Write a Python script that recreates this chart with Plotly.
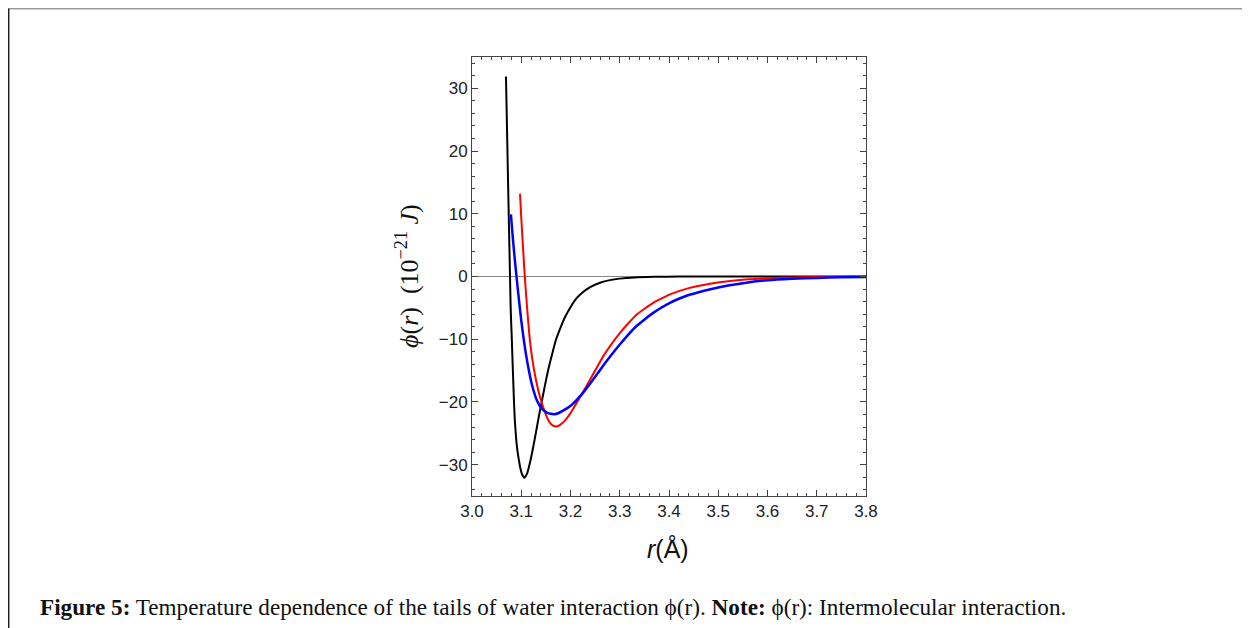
import plotly.graph_objects as go

# ---- data ----
r_black = [3.069, 3.0715, 3.074, 3.0772, 3.0785, 3.0806, 3.083, 3.0853, 3.087, 3.0893,
           3.0915, 3.094, 3.0989, 3.1025, 3.106, 3.112, 3.118, 3.124, 3.130, 3.136,
           3.1415, 3.148, 3.155, 3.162, 3.170, 3.180, 3.190, 3.200, 3.212, 3.225,
           3.240, 3.260, 3.280, 3.300, 3.330, 3.370, 3.420, 3.500, 3.650, 3.800]
phi_black = [31.9, 22.0, 12.0, 0.0, -5.0, -9.5, -15.0, -20.1, -23.0, -25.5,
             -27.3, -28.7, -30.8, -31.7, -32.1, -31.4, -29.6, -27.3, -24.8, -22.2,
             -20.0, -17.4, -14.8, -12.6, -10.2, -8.1, -6.3, -4.9, -3.5, -2.5,
             -1.7, -1.0, -0.58, -0.34, -0.15, -0.05, 0.0, 0.0, 0.0, 0.0]

r_blue = [3.079, 3.082, 3.085, 3.088, 3.091, 3.095, 3.100, 3.105, 3.110, 3.115,
          3.120, 3.125, 3.130, 3.1375, 3.145, 3.152, 3.160, 3.1675, 3.175, 3.185,
          3.199, 3.216, 3.233, 3.250, 3.2666, 3.284, 3.3005, 3.317, 3.334, 3.351,
          3.368, 3.385, 3.402, 3.420, 3.440, 3.460, 3.480, 3.520, 3.560, 3.600,
          3.650, 3.700, 3.750, 3.800]
phi_blue = [9.9, 7.0, 4.3, 1.8, -0.5, -3.5, -7.0, -10.0, -12.6, -14.8,
            -16.7, -18.2, -19.4, -20.6, -21.3, -21.7, -21.9, -21.95, -21.8, -21.4,
            -20.7, -19.4, -17.8, -16.0, -14.2, -12.4, -10.8, -9.3, -7.9, -6.8,
            -5.8, -4.95, -4.2, -3.55, -2.95, -2.5, -2.1, -1.45, -0.95, -0.6,
            -0.37, -0.22, -0.13, -0.08]

r_red = [3.0975, 3.100, 3.103, 3.106, 3.109, 3.112, 3.116, 3.120, 3.125, 3.130,
         3.136, 3.1415, 3.147, 3.153, 3.160, 3.165, 3.1706, 3.176, 3.183, 3.190,
         3.199, 3.216, 3.233, 3.250, 3.2666, 3.284, 3.3005, 3.317, 3.334, 3.351,
         3.368, 3.385, 3.402, 3.440, 3.480, 3.520, 3.560, 3.600, 3.650, 3.700,
         3.750, 3.800]
phi_red = [13.2, 9.4, 5.4, 1.5, -2.0, -5.1, -8.9, -11.8, -14.4, -16.5,
           -18.6, -20.1, -21.4, -22.6, -23.5, -23.8, -23.9, -23.8, -23.4, -22.85,
           -21.9, -19.7, -17.4, -15.0, -12.7, -10.7, -9.0, -7.5, -6.1, -5.1,
           -4.2, -3.5, -2.85, -1.85, -1.2, -0.75, -0.45, -0.28, -0.15, -0.085,
           -0.05, -0.025]

x_ticks = [3.0, 3.1, 3.2, 3.3, 3.4, 3.5, 3.6, 3.7, 3.8]
y_ticks = [-30, -20, -10, 0, 10, 20, 30]

caption = ("<b>Figure 5:</b> Temperature dependence of the tails of water interaction "
           "ϕ(r). <b>Note:</b> ϕ(r): Intermolecular interaction.")
y_title = "<i>ϕ</i>(<i>r</i>)  (10<sup>−21</sup> <i>J</i>)"
x_title = "<i>r</i>(Å)"

fig = go.Figure()
fig.add_trace(go.Scatter(x=r_black, y=phi_black, mode="lines",
                         line=dict(color="black", width=2, shape="spline", smoothing=0.5)))
fig.add_trace(go.Scatter(x=r_red, y=phi_red, mode="lines",
                         line=dict(color="#ff0000", width=2, shape="spline", smoothing=0.5)))
fig.add_trace(go.Scatter(x=r_blue, y=phi_blue, mode="lines",
                         line=dict(color="#0000ff", width=2.5, shape="spline", smoothing=0.5)))

axis_common = dict(
    showline=True, linecolor="#444", linewidth=1, mirror="ticks",
    ticks="inside", ticklen=6, tickcolor="#444", tickwidth=1,
    showgrid=False,
    tickfont=dict(family="Liberation Sans, Arial, sans-serif", size=17, color="#222"),
)

fig.update_xaxes(range=[3.0, 3.8], tickvals=x_ticks, tickformat=".1f",
                 minor=dict(dtick=0.02, ticks="inside", ticklen=3, tickcolor="#444"),
                 zeroline=False, **axis_common)
fig.update_yaxes(range=[-35, 35], tickvals=y_ticks,
                 minor=dict(dtick=2, ticks="inside", ticklen=3, tickcolor="#444"),
                 zeroline=True, zerolinecolor="#888", zerolinewidth=1, **axis_common)

OFF = 8  # page body margin
W, H = 1250 - OFF, 628 - OFF
L, R, T, B = 472 - OFF, 866 - OFF, 57 - OFF, 496 - OFF


def px(xa):
    return (xa - OFF - L) / (R - L)


def py(ya):
    return (B - (ya - OFF)) / (B - T)


fig.update_layout(
    width=W, height=H, showlegend=False,
    margin=dict(l=L, r=W - R, t=T, b=H - B, pad=0),
    plot_bgcolor="white", paper_bgcolor="white",
    annotations=[
        dict(text=y_title, x=px(407), y=py(276), xref="paper", yref="paper",
             textangle=-90, showarrow=False, xanchor="center", yanchor="middle",
             font=dict(family="Liberation Serif, Times New Roman, serif", size=26, color="#111")),
        dict(text=x_title, x=px(668), y=py(548), xref="paper", yref="paper",
             showarrow=False, xanchor="center", yanchor="middle",
             font=dict(family="Liberation Sans, Arial, sans-serif", size=25, color="#111")),
        dict(text=caption, x=px(38), y=py(607), xref="paper", yref="paper",
             showarrow=False, xanchor="left", yanchor="middle",
             font=dict(family="Liberation Serif, Times New Roman, serif", size=23.2, color="#111")),
    ],
    shapes=[
        dict(type="line", xref="paper", yref="paper", x0=px(8.5), x1=px(1250), y0=py(8.5), y1=py(8.5),
             line=dict(color="#999", width=2)),
        dict(type="line", xref="paper", yref="paper", x0=px(8.7), x1=px(8.7), y0=py(8.5), y1=py(628),
             line=dict(color="#222", width=1.5)),
    ],
)

fig.write_html("out.html")
